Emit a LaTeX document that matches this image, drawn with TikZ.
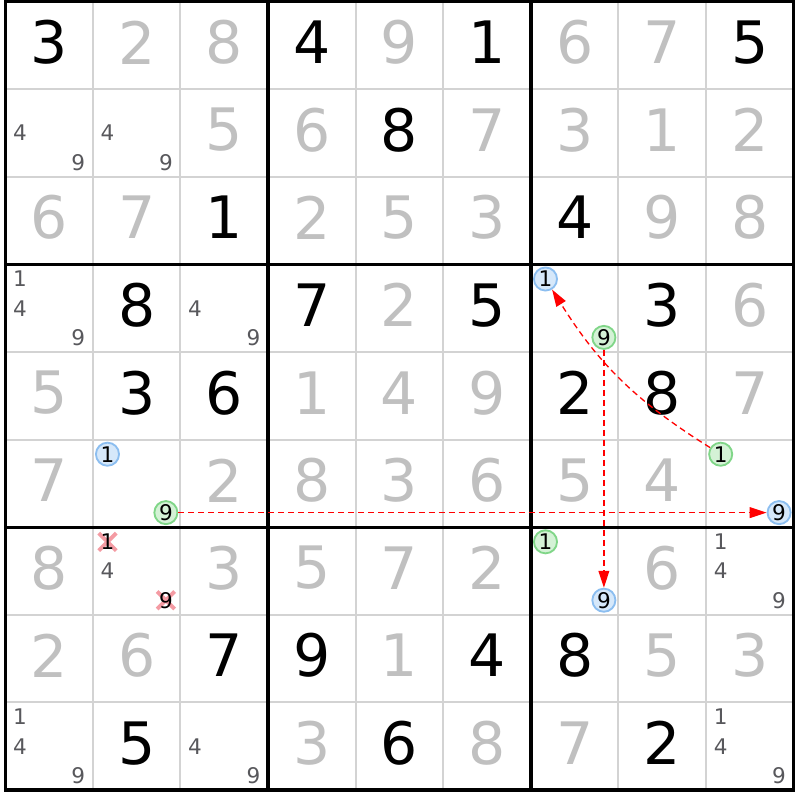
\documentclass[tikz,border=0pt]{standalone}
\usepackage{fontspec}
\setmainfont{DejaVu Sans}
\usetikzlibrary{arrows.meta}

\definecolor{solvedgray}{RGB}{192,192,192}
\definecolor{candgray}{RGB}{88,88,92}
\definecolor{thingrid}{RGB}{211,211,211}
\definecolor{blueedge}{RGB}{140,190,240}
\definecolor{bluefill}{RGB}{214,232,250}
\definecolor{greenedge}{RGB}{128,214,136}
\definecolor{greenfill}{RGB}{212,242,214}
\definecolor{strikered}{RGB}{242,130,140}

\begin{document}
\begin{tikzpicture}[x=2cm, y=2cm,
	given/.style={font=\fontsize{38}{38}\selectfont, inner sep=0pt},
	solved/.style={given, text=solvedgray},
	cand/.style={font=\fontsize{14}{14}\selectfont, inner sep=0pt, text=candgray},
	blue-mark/.style={circle, draw=blueedge, fill=bluefill, line width=1.2pt, minimum size=15pt, inner sep=0pt, font=\fontsize{14}{14}\selectfont},
	green-mark/.style={blue-mark, draw=greenedge, fill=greenfill},
	link/.style={red, dash pattern=on 3.9pt off 2.6pt, line width=0.85pt, -{Triangle[length=11pt, width=7pt]}},
	strike/.style={strikered, line width=2.5pt, opacity=0.8}]

	\fill[white] (-0.0604,-0.114) rectangle (9.0616,9.0114);

	% grid
	\foreach \i in {1,...,8} {
		\draw[thingrid, line width=1.3pt] (\i,0) -- (\i,9);
		\draw[thingrid, line width=1.3pt] (0,\i) -- (9,\i);
	}
	\foreach \i in {3,6} {
		\draw[line width=2.1pt] (\i,0) -- (\i,9);
		\draw[line width=2.1pt] (0,\i) -- (9,\i);
	}
	\draw[line width=2.1pt] (0,0) rectangle (9,9);

	% givens and solved cells
	\foreach \r/\c/\d in {1/1/3, 1/4/4, 1/6/1, 1/9/5, 2/5/8, 3/3/1, 3/7/4, 4/2/8, 4/4/7, 4/6/5, 4/8/3,
		5/2/3, 5/3/6, 5/7/2, 5/8/8, 8/3/7, 8/4/9, 8/6/4, 8/7/8, 9/2/5, 9/5/6, 9/8/2}
		\node[given] (cell-\r-\c) at (\c-0.5, 9.534-\r) {\d};
	\foreach \r/\c/\d in {1/2/2, 1/3/8, 1/5/9, 1/7/6, 1/8/7, 2/3/5, 2/4/6, 2/6/7, 2/7/3, 2/8/1, 2/9/2,
		3/1/6, 3/2/7, 3/4/2, 3/5/5, 3/6/3, 3/8/9, 3/9/8, 4/5/2, 4/9/6, 5/1/5, 5/4/1, 5/5/4, 5/6/9, 5/9/7,
		6/1/7, 6/3/2, 6/4/8, 6/5/3, 6/6/6, 6/7/5, 6/8/4, 7/1/8, 7/3/3, 7/4/5, 7/5/7, 7/6/2, 7/8/6,
		8/1/2, 8/2/6, 8/5/1, 8/8/5, 8/9/3, 9/4/3, 9/6/8, 9/7/7}
		\node[solved] (cell-\r-\c) at (\c-0.5, 9.534-\r) {\d};

	% pencil marks
	\foreach \r/\c/\d in {2/1/4, 2/1/9, 2/2/4, 2/2/9, 4/1/1, 4/1/4, 4/1/9, 4/3/4, 4/3/9, 7/2/4,
		7/9/1, 7/9/4, 7/9/9, 9/1/1, 9/1/4, 9/1/9, 9/3/4, 9/3/9, 9/9/1, 9/9/4, 9/9/9} {
		\pgfmathsetmacro{\cx}{\c-1+(mod(\d-1,3)+0.5)/3}
		\pgfmathsetmacro{\cy}{10-\r-(floor((\d-1)/3)+0.5)/3}
		\node[cand] (cand-\r-\c-\d) at (\cx,\cy) {\d};
	}

	% eliminated
	\coordinate (r7c2-x1) at (1+1/6, 3-1/6);
	\coordinate (r7c2-x9) at (1+5/6, 3-5/6);
	\draw[strike] (r7c2-x1) ++(-0.1,-0.1) -- ++(0.2,0.2) (r7c2-x1) ++(-0.1,0.1) -- ++(0.2,-0.2);
	\draw[strike] (r7c2-x9) ++(-0.1,-0.1) -- ++(0.2,0.2) (r7c2-x9) ++(-0.1,0.1) -- ++(0.2,-0.2);
	\node[cand, text=black] (r7c2-1) at (r7c2-x1) {1};
	\node[cand, text=black] (r7c2-9) at (r7c2-x9) {9};

	% chain
	\node[blue-mark] (r4c7-1) at (6+1/6, 6-1/6) {1};
	\node[green-mark] (r4c7-9) at (6+5/6, 6-5/6) {9};
	\node[blue-mark] (r6c2-1) at (1+1/6, 4-1/6) {1};
	\node[green-mark] (r6c2-9) at (1+5/6, 4-5/6) {9};
	\node[green-mark] (r6c9-1) at (8+1/6, 4-1/6) {1};
	\node[blue-mark] (r6c9-9) at (8+5/6, 4-5/6) {9};
	\node[green-mark] (r7c7-1) at (6+1/6, 3-1/6) {1};
	\node[blue-mark] (r7c7-9) at (6+5/6, 3-5/6) {9};

	\draw[link] (r6c2-9) -- (r6c9-9);
	\draw[link] (r4c7-9) -- (r7c7-9);
	\draw[link] (r6c9-1) to[bend left=13] (r4c7-1);
\end{tikzpicture}
\end{document}
